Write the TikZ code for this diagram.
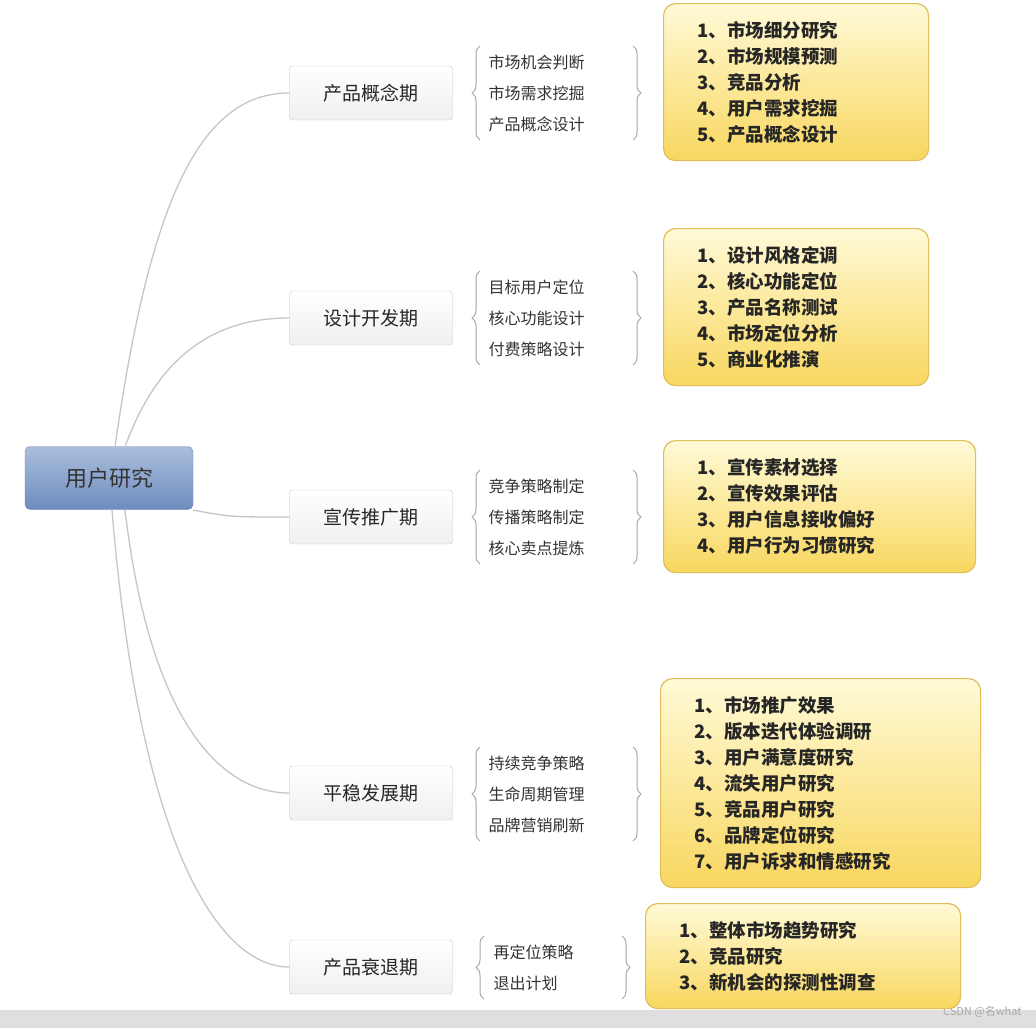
\documentclass[tikz,border=0pt]{standalone}
\usepackage{fontspec}
\setmainfont{Noto Sans CJK SC}
\usetikzlibrary{decorations.pathreplacing}
\definecolor{rootA}{RGB}{170,190,220}
\definecolor{rootB}{RGB}{110,140,190}
\definecolor{yA}{RGB}{255,250,215}
\definecolor{yB}{RGB}{248,215,95}
\definecolor{yD}{RGB}{225,190,90}
\begin{document}
\begin{tikzpicture}[x=1pt,y=-1pt,
  stage/.style={draw=gray!45,rounded corners=3pt,top color=white,bottom color=gray!12,minimum width=163pt,minimum height=54pt,font=\fontsize{19}{20}\selectfont,text=black!85},
  rootbox/.style={draw=rootB,rounded corners=5pt,top color=rootA,bottom color=rootB,minimum width=168pt,minimum height=63pt,font=\fontsize{22}{24}\selectfont,text=black!80},
  sub/.style={anchor=west,font=\fontsize{16}{18}\selectfont,text=black!80},
  ybox/.style={draw=yD,line width=1.2pt,rounded corners=12pt,top color=yA,bottom color=yB,align=left,font=\fontsize{18.5}{26}\selectfont\bfseries,text=black!85,inner xsep=34pt,anchor=north west},
  link/.style={draw=gray!45,line width=1.3pt},
  br/.style={draw=gray!70,line width=1pt,decorate,decoration={brace,amplitude=8pt}}]
\useasboundingbox[fill=white] (0,0) rectangle (1036,1028);
\fill[gray!25] (0,1010) rectangle (1036,1028);
\node[text=gray!70,font=\fontsize{11}{12}\selectfont,anchor=east] (wm) at (1025,1012) {CSDN @名what};
\node[rootbox] (root) at (109,478) {用户研究};
\node[stage] (s1) at (371,93) {产品概念期};
\node[stage] (s2) at (371,318) {设计开发期};
\node[stage] (s3) at (371,517) {宣传推广期};
\node[stage] (s4) at (371,793) {平稳发展期};
\node[stage] (s5) at (371,967) {产品衰退期};
\coordinate (r1) at (115,447);
\coordinate (r2) at (125,447);
\coordinate (r3) at (193,510);
\coordinate (r4) at (125,510);
\coordinate (r5) at (112,510);
\draw[link] (r1) .. controls (150,200) and (200,93) .. (s1.west);
\draw[link] (r2) .. controls (160,350) and (220,318) .. (s2.west);
\draw[link] (r3) .. controls (230,517) .. (s3.west);
\draw[link] (r4) .. controls (150,720) and (220,793) .. (s4.west);
\draw[link] (r5) .. controls (140,850) and (220,967) .. (s5.west);
\foreach \y/\t [count=\i] in {62/市场机会判断,93/市场需求挖掘,124/产品概念设计}{\node[sub] (a\i) at (485,\y) {\t};}
\foreach \y/\t [count=\i] in {287/目标用户定位,318/核心功能设计,349/付费策略设计}{\node[sub] (b\i) at (485,\y) {\t};}
\foreach \y/\t [count=\i] in {486/竞争策略制定,517/传播策略制定,548/核心卖点提炼}{\node[sub] (c\i) at (485,\y) {\t};}
\foreach \y/\t [count=\i] in {763/持续竞争策略,794/生命周期管理,825/品牌营销刷新}{\node[sub] (d\i) at (485,\y) {\t};}
\foreach \y/\t [count=\i] in {952/再定位策略,983/退出计划}{\node[sub] (e\i) at (490,\y) {\t};}
\draw[br] (480,140) -- (480,46);
\draw[br] (633,46) -- (633,140);
\draw[br] (480,365) -- (480,271);
\draw[br] (633,271) -- (633,365);
\draw[br] (480,564) -- (480,470);
\draw[br] (633,470) -- (633,564);
\draw[br] (480,841) -- (480,747);
\draw[br] (633,747) -- (633,841);
\draw[br] (484,999) -- (484,936);
\draw[br] (622,936) -- (622,999);
\node[ybox,text width=197pt,minimum height=157pt] (y1) at (663,3) {1、市场细分研究\\2、市场规模预测\\3、竞品分析\\4、用户需求挖掘\\5、产品概念设计};
\node[ybox,text width=197pt,minimum height=157pt] (y2) at (663,228) {1、设计风格定调\\2、核心功能定位\\3、产品名称测试\\4、市场定位分析\\5、商业化推演};
\node[ybox,text width=244pt,minimum height=132pt] (y3) at (663,440) {1、宣传素材选择\\2、宣传效果评估\\3、用户信息接收偏好\\4、用户行为习惯研究};
\node[ybox,text width=252pt,minimum height=209pt] (y4) at (660,678) {1、市场推广效果\\2、版本迭代体验调研\\3、用户满意度研究\\4、流失用户研究\\5、竞品用户研究\\6、品牌定位研究\\7、用户诉求和情感研究};
\node[ybox,text width=247pt,minimum height=105pt] (y5) at (645,903) {1、整体市场趋势研究\\2、竞品研究\\3、新机会的探测性调查};
\end{tikzpicture}
\end{document}
